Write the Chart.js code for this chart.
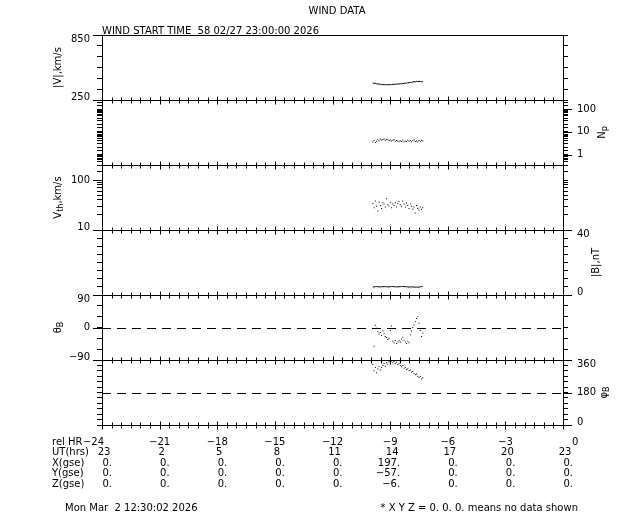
<!DOCTYPE html>
<html>
<head>
<meta charset="utf-8">
<title>WIND DATA</title>
<script src="https://cdn.jsdelivr.net/npm/chart.js@4.4.1/dist/chart.umd.min.js"></script>
<style>
  body { margin: 0; background: #fff; }
  canvas { display: block; }
</style>
</head>
<body>
<canvas id="windChart" width="640" height="512"></canvas>
<script>
// ====== DATA ======
const hours = [
  -9.900, -9.835, -9.770, -9.705, -9.640, -9.575, -9.510, -9.445, -9.380, -9.315,
  -9.250, -9.185, -9.120, -9.055, -8.990, -8.925, -8.860, -8.795, -8.730, -8.665,
  -8.600, -8.535, -8.470, -8.405, -8.340, -8.275, -8.210, -8.145, -8.080, -8.015,
  -7.950, -7.885, -7.820, -7.755, -7.690, -7.625, -7.560, -7.495, -7.430, -7.365, -7.300
];
const speed = [
  408, 402, 405, 398, 400, 395, 397, 392, 394, 390, 393, 389, 392, 390, 394, 391, 395, 393, 397, 395,
  399, 397, 401, 399, 404, 402, 406, 404, 410, 408, 413, 411, 416, 420, 417, 422, 419, 423, 420, 418, 421
];
const density = [
  3.6, 4.2, 3.4, 3.9, 4.5, 4.1, 4.8, 4.4, 4.6, 4.9, 4.3, 4.7, 4.5, 4.2, 4.4, 4.0, 4.3, 4.6, 3.9, 4.2,
  4.0, 3.7, 4.1, 3.8, 4.3, 3.6, 4.0, 3.8, 4.4, 3.9, 4.2, 3.7, 4.1, 4.5, 3.8, 4.0, 3.6, 4.2, 3.9, 4.3, 4.0
];
const thermal = [
  34, 28, 38, 30, 24, 36, 31, 27, 35, 33, 29, 42, 32, 30, 36, 28, 33, 31, 35, 29,
  34, 37, 32, 30, 38, 33, 29, 35, 31, 27, 33, 30, 26, 29, 22, 31, 27, 25, 29, 26, 28
];
const fieldMag = [
  4.9, 5.0, 5.1, 5.2, 5.1, 5.0, 5.0, 5.1, 5.1, 5.2, 5.1, 5.1, 5.0, 5.0, 5.1, 5.2, 5.2, 5.1, 5.1, 5.0,
  5.0, 5.1, 5.1, 5.2, 5.3, 5.2, 5.1, 5.1, 5.0, 4.9, 4.9, 5.0, 5.0, 4.9, 4.8, 4.9, 4.8, 4.9, 5.0, 5.2, 5.3
];
const fieldTheta = [
  -3, -52, 6, -2, -12, -18, -14, -22, -10, -17, -25, -28, -33, -30, -8, 4, -38, -42, -36, -44,
  -40, -37, -41, -32, -27, -35, -40, -44, -38, -42, -20, -10, 0, 7, 16, 25, 30, 12, -8, -25, -15
];
const fieldPhi = [
  335, 300, 318, 290, 310, 322, 305, 318, 330, 340, 325, 345, 338, 350, 342, 355, 345, 352, 340, 348,
  335, 342, 330, 322, 328, 315, 320, 308, 312, 300, 305, 292, 296, 285, 278, 282, 270, 262, 268, 255, 262
];

const speedTicks = [250, 850];
const densityTicks = [1, 10, 100];
const thermalTicks = [10, 100];
const fieldTicks = [0, 40];
const thetaTicks = [-90, 0, 90];
const phiTicks = [0, 180, 360];

const thetaRef = 0;
const phiRef = 180;

const relHr = [-24, -21, -18, -15, -12, -9, -6, -3, 0];
const utHrs = ["23", "2", "5", "8", "11", "14", "17", "20", "23"];
const xGse = ["0.", "0.", "0.", "0.", "0.", "197.", "0.", "0.", "0."];
const yGse = ["0.", "0.", "0.", "0.", "0.", "-57.", "0.", "0.", "0."];
const zGse = ["0.", "0.", "0.", "0.", "0.", "-6.", "0.", "0.", "0."];

// ====== PANELS ======
const FONT = "10px 'DejaVu Sans'";
const SUB_FONT = "8px 'DejaVu Sans'";

const panels = [
  { type: "linear", min: 250, max: 850, step: 100, side: "left", labels: speedTicks, title: [["|V|,km/s"]], tx: -44 },
  { type: "logarithmic", min: 0.35, max: 250, side: "right", labels: densityTicks, title: [["N"], ["p", "sub"]], tx: 39 },
  { type: "logarithmic", min: 10, max: 200, side: "left", labels: thermalTicks, title: [["V"], ["th", "sub"], [",km/s"]], tx: -44 },
  { type: "linear", min: 0, max: 40, step: 5, side: "right", labels: fieldTicks, title: [["|B|,nT"]], tx: 33 },
  { type: "linear", min: -90, max: 90, step: 30, side: "left", labels: thetaTicks, title: [["θ"], ["B", "sub"]], tx: -44 },
  { type: "linear", min: 0, max: 360, step: 30, side: "right", labels: phiTicks, title: [["φ"], ["B", "sub"]], tx: 41 },
];
const series = [speed, density, thermal, fieldMag, fieldTheta, fieldPhi];
const joined = [true, false, false, true, false, false];

function minus(v) {
  return String(v).replace("-", "\u2212");
}

function axisOptions(p, side) {
  return {
    type: p.type,
    min: p.min,
    max: p.max,
    position: side,
    stack: side,
    stackWeight: 1,
    ticks: { display: false, stepSize: p.step },
    grid: { drawOnChartArea: false, drawTicks: true, tickLength: 5, color: "#000", lineWidth: 1 },
    border: { display: true, color: "#000", width: 1 },
    afterFit: (s) => { s.width = 40; },
  };
}

function drawRich(ctx, parts, x, y) {
  ctx.save();
  ctx.translate(x, y);
  ctx.rotate(-Math.PI / 2);
  ctx.textBaseline = "middle";
  ctx.textAlign = "left";
  let width = 0;
  parts.forEach((p) => {
    ctx.font = p[1] ? SUB_FONT : FONT;
    width += ctx.measureText(p[0]).width;
  });
  let cx = -width / 2;
  parts.forEach((p) => {
    ctx.font = p[1] ? SUB_FONT : FONT;
    ctx.fillText(p[0], cx, p[1] ? 3 : 0);
    cx += ctx.measureText(p[0]).width;
  });
  ctx.restore();
}

function hline(ctx, x1, x2, y) {
  ctx.beginPath();
  ctx.moveTo(x1, Math.round(y) + 0.5);
  ctx.lineTo(x2, Math.round(y) + 0.5);
  ctx.stroke();
}

const windDecor = {
  id: "windDecor",
  beforeDatasetsDraw(chart) {
    const ctx = chart.ctx;
    const area = chart.chartArea;
    ctx.save();
    ctx.strokeStyle = "#000";
    ctx.lineWidth = 1;
    ctx.setLineDash([9, 6]);
    hline(ctx, area.left, area.right, chart.scales.L4.getPixelForValue(thetaRef));
    hline(ctx, area.left, area.right, chart.scales.L5.getPixelForValue(phiRef));
    ctx.restore();
  },
  afterDraw(chart) {
    const ctx = chart.ctx;
    const area = chart.chartArea;
    const xs = chart.scales.x;
    ctx.save();
    ctx.strokeStyle = "#000";
    ctx.fillStyle = "#000";
    ctx.lineWidth = 1;

    // panel frames
    hline(ctx, area.left, area.right + 1, area.top);
    const seps = [];
    panels.forEach((p, i) => {
      const s = chart.scales["L" + i];
      if (i > 0) seps.push(s.top);
    });
    seps.push(area.bottom);
    seps.forEach((y) => hline(ctx, area.left, area.right + 1, y));

    // time ticks on every separator
    for (let h = -24; h <= 0; h += 0.5) {
      const x = Math.round(xs.getPixelForValue(h)) + 0.5;
      const len = relHr.includes(h) ? 4 : 3;
      seps.forEach((y) => {
        const yy = Math.round(y) + 0.5;
        ctx.beginPath();
        ctx.moveTo(x, yy - len);
        ctx.lineTo(x, yy + len);
        ctx.stroke();
      });
    }

    // tick labels, longer labelled ticks and axis titles
    ctx.font = FONT;
    ctx.textBaseline = "middle";
    panels.forEach((p, i) => {
      const s = chart.scales["L" + i];
      p.labels.forEach((v) => {
        const py = s.getPixelForValue(v);
        const ty = Math.round(py) + 0.5;
        ctx.beginPath();
        if (p.side === "left") {
          ctx.moveTo(area.left - 9, ty);
          ctx.lineTo(area.left, ty);
        } else {
          ctx.moveTo(area.right, ty);
          ctx.lineTo(area.right + 9, ty);
        }
        ctx.stroke();
        const y = Math.min(Math.max(py, s.top + 4.5), s.bottom - 3);
        if (p.side === "left") {
          ctx.textAlign = "right";
          ctx.fillText(minus(v), area.left - 12, y);
        } else {
          ctx.textAlign = "left";
          ctx.fillText(minus(v), area.right + 14, y);
        }
      });
      const tx = p.side === "left" ? area.left + p.tx : area.right + p.tx;
      drawRich(ctx, p.title, tx, (s.top + s.bottom) / 2);
    });

    // headings
    ctx.font = FONT;
    ctx.textAlign = "center";
    ctx.textBaseline = "middle";
    ctx.fillText("WIND DATA", 337, 11);
    ctx.textAlign = "left";
    ctx.textBaseline = "alphabetic";
    ctx.fillText("WIND START TIME  58 02/27 23:00:00 2026", area.left, 34);

    // position table
    const rows = [
      ["rel HR", relHr.map(minus), "center", 0],
      ["UT(hrs)", utHrs, "center", 2],
      ["X(gse)", xGse.map(minus), "right", 10],
      ["Y(gse)", yGse.map(minus), "right", 10],
      ["Z(gse)", zGse.map(minus), "right", 10],
    ];
    ctx.textBaseline = "middle";
    rows.forEach((r, k) => {
      const y = 442 + k * 10.5;
      ctx.textAlign = "left";
      ctx.fillText(r[0], 52, y);
      r[1].forEach((txt, j) => {
        const x = xs.getPixelForValue(relHr[j]);
        if (k === 0 && j === 0) {
          ctx.textAlign = "right";
          ctx.fillText(txt, x + 2, y);
        } else if (k === 0 && j === relHr.length - 1) {
          ctx.textAlign = "left";
          ctx.fillText(txt, x + 9, y);
        } else {
          ctx.textAlign = r[2];
          ctx.fillText(txt, x + r[3], y);
        }
      });
    });

    ctx.textAlign = "left";
    ctx.fillText("Mon Mar  2 12:30:02 2026", 65, 508);
    ctx.textAlign = "right";
    ctx.fillText("* X Y Z = 0. 0. 0. means no data shown", 578, 508);
    ctx.restore();
  },
};

// ====== CHART ======
function initChart() {
  const scales = { x: { type: "linear", min: -24, max: 0, display: false } };
  // left boxes are laid out in reverse order, so add them last-to-first
  for (let i = panels.length - 1; i >= 0; i--) {
    scales["L" + i] = axisOptions(panels[i], "left");
  }
  panels.forEach((p, i) => {
    scales["R" + i] = axisOptions(p, "right");
  });

  const datasets = series.map((vals, i) => ({
    data: hours.map((h, k) => ({ x: h, y: vals[k] })),
    yAxisID: "L" + i,
    showLine: joined[i],
    borderColor: "#000",
    borderWidth: 1,
    backgroundColor: "#000",
    pointStyle: "rect",
    pointRadius: joined[i] ? 0 : 0.7,
    pointBorderWidth: 0,
  }));

  new Chart(document.getElementById("windChart"), {
    type: "scatter",
    data: { datasets },
    options: {
      responsive: false,
      animation: false,
      devicePixelRatio: 1,
      layout: { autoPadding: false, padding: { left: 62, right: 37, top: 35, bottom: 87 } },
      plugins: { legend: { display: false }, tooltip: { enabled: false } },
      scales,
    },
    plugins: [windDecor],
  });
}

document.addEventListener("DOMContentLoaded", initChart);
</script>
</body>
</html>
